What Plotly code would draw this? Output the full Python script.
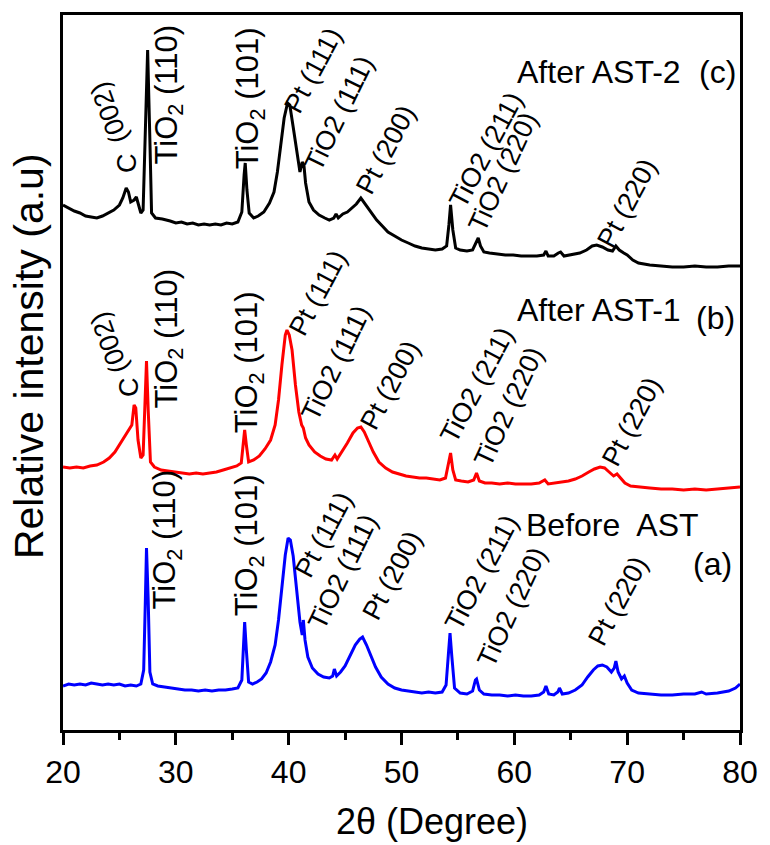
import plotly.graph_objects as go

# ---- XRD patterns (2θ in degrees, stacked intensity in a.u.) ----
two_theta_c = [20.0, 20.5, 21.0, 21.5, 22.0, 22.5, 23.0, 23.5, 24.0, 24.5, 25.0, 25.3, 25.6, 25.8, 26.0, 26.3, 26.5, 26.7, 26.9, 27.1,
               27.3, 27.5, 27.7, 27.85, 28.2, 28.8, 29.5, 30.0, 30.5, 31.0, 31.5, 32.0, 32.5, 33.0, 33.5, 34.0, 34.5, 35.0, 35.5, 35.85,
               36.05, 36.15, 36.3, 36.5, 36.9, 37.3, 37.8, 38.3, 38.7, 39.0, 39.3, 39.6, 39.9, 40.1, 40.4, 40.7, 41.0, 41.2, 41.35, 41.5,
               41.8, 42.2, 42.7, 43.2, 43.6, 44.0, 44.2, 44.4, 44.8, 45.2, 45.6, 46.0, 46.4, 46.7, 47.0, 47.4, 47.8, 48.3, 48.8, 49.4,
               50.0, 50.6, 51.2, 51.8, 52.4, 53.0, 53.6, 54.0, 54.2, 54.35, 54.55, 54.8, 55.2, 55.8, 56.3, 56.6, 56.8, 57.0, 57.3, 57.8,
               58.5, 59.2, 59.9, 60.6, 61.3, 62.0, 62.6, 62.8, 63.0, 63.5, 63.9, 64.1, 64.4, 65.0, 65.8, 66.4, 66.9, 67.3, 67.8, 68.3,
               68.7, 69.0, 69.3, 69.7, 70.0, 70.5, 71.0, 72.0, 73.0, 74.0, 75.0, 76.0, 77.0, 78.0, 79.0, 80.0]
intensity_c = [525, 522, 519, 517, 514, 513, 512, 514, 517, 520, 525, 532, 542, 538, 528, 530, 533, 525, 517, 520,
               590, 680, 590, 517, 512, 511, 509, 507, 508, 506, 507, 505, 506, 505, 506, 505, 507, 506, 508, 518,
               555, 567, 540, 517, 512, 514, 518, 527, 538, 558, 585, 612, 627, 625, 603, 580, 558, 568, 565, 547,
               528, 520, 515, 512, 510, 512, 516, 512, 516, 518, 522, 526, 532, 527, 522, 516, 510, 504, 498, 494,
               490, 487, 484, 482, 481, 480, 481, 484, 505, 525, 500, 482, 480, 479, 480, 487, 492, 484, 478, 477,
               476, 475, 475, 474, 474, 474, 475, 479, 474, 474, 477, 478, 474, 475, 477, 480, 484, 485, 483, 480,
               479, 484, 480, 477, 475, 470, 467, 465, 464, 463, 463, 464, 463, 463, 464, 464]

two_theta_b = [20.0, 20.6, 21.2, 21.8, 22.4, 23.0, 23.6, 24.1, 24.6, 25.0, 25.4, 25.8, 26.1, 26.3, 26.45, 26.65, 26.9, 27.1, 27.25, 27.4,
               27.55, 27.75, 28.1, 28.7, 29.3, 30.0, 30.6, 31.2, 31.8, 32.4, 33.0, 33.6, 34.2, 34.8, 35.4, 35.8, 36.0, 36.1, 36.25, 36.45,
               36.9, 37.4, 37.9, 38.4, 38.8, 39.1, 39.4, 39.7, 39.85, 40.05, 40.3, 40.6, 40.9, 41.15, 41.3, 41.5, 41.8, 42.3, 42.8, 43.3,
               43.8, 44.1, 44.3, 44.7, 45.2, 45.7, 46.1, 46.4, 46.7, 47.1, 47.5, 48.0, 48.6, 49.2, 49.8, 50.4, 51.0, 51.6, 52.2, 52.8,
               53.4, 53.9, 54.15, 54.35, 54.55, 54.8, 55.3, 55.9, 56.4, 56.65, 56.9, 57.4, 58.0, 58.7, 59.4, 60.1, 60.8, 61.5, 62.2, 62.7,
               63.0, 63.6, 64.2, 64.8, 65.4, 66.0, 66.6, 67.1, 67.6, 68.0, 68.4, 68.8, 69.1, 69.4, 69.8, 70.3, 71.0, 72.0, 73.0, 74.0,
               75.0, 76.0, 77.0, 78.0, 79.0, 80.0]
intensity_b = [263, 262, 263, 262, 264, 265, 268, 272, 278, 285, 293, 300, 305, 325, 322, 290, 272, 275, 330, 369,
               320, 268, 263, 260, 259, 258, 257, 256, 257, 256, 257, 258, 260, 262, 264, 267, 285, 300, 285, 268,
               270, 274, 281, 290, 305, 330, 365, 395, 400, 395, 380, 345, 318, 305, 302, 292, 285, 278, 274, 271,
               270, 275, 271, 278, 287, 297, 302, 303, 298, 288, 278, 268, 262, 258, 256, 254, 253, 252, 252, 251,
               250, 252, 265, 277, 260, 250, 249, 248, 250, 257, 249, 247, 247, 246, 247, 246, 246, 246, 247, 250,
               246, 247, 248, 249, 251, 254, 258, 261, 263, 262, 258, 254, 256, 252, 247, 244, 243, 242, 241, 241,
               240, 241, 240, 241, 242, 243]

two_theta_a = [20.0, 20.5, 21.0, 21.5, 22.0, 22.5, 23.0, 23.5, 24.0, 24.5, 25.0, 25.5, 26.0, 26.5, 26.9, 27.15, 27.3, 27.4, 27.55, 27.7,
               27.95, 28.4, 29.0, 29.6, 30.2, 30.8, 31.4, 32.0, 32.6, 33.2, 33.8, 34.4, 35.0, 35.5, 35.85, 36.0, 36.1, 36.25, 36.45, 36.8,
               37.2, 37.6, 38.0, 38.4, 38.8, 39.1, 39.4, 39.7, 39.95, 40.15, 40.4, 40.7, 41.0, 41.2, 41.3, 41.45, 41.7, 42.1, 42.6, 43.1,
               43.6, 43.9, 44.05, 44.25, 44.6, 45.0, 45.5, 45.9, 46.3, 46.55, 46.9, 47.3, 47.7, 48.2, 48.8, 49.4, 50.0, 50.6, 51.2, 51.8,
               52.4, 53.0, 53.6, 53.95, 54.15, 54.3, 54.45, 54.7, 55.2, 55.8, 56.3, 56.55, 56.65, 56.9, 57.3, 58.0, 58.7, 59.4, 60.1, 60.8,
               61.5, 62.2, 62.6, 62.8, 63.05, 63.5, 63.85, 64.0, 64.25, 64.8, 65.4, 66.0, 66.5, 67.0, 67.4, 67.8, 68.2, 68.6, 68.85, 69.0,
               69.2, 69.5, 69.75, 70.0, 70.4, 71.0, 72.0, 73.0, 74.0, 75.0, 76.0, 76.6, 77.0, 78.0, 79.0, 79.6, 80.0]
intensity_a = [44, 46, 45, 46, 45, 47, 46, 45, 46, 45, 46, 44, 45, 44, 46, 60, 130, 182, 130, 58,
               46, 44, 43, 42, 41, 40, 40, 39, 40, 39, 40, 40, 41, 42, 50, 90, 108, 80, 48, 46,
               48, 51, 57, 68, 85, 110, 140, 175, 192, 190, 174, 140, 108, 95, 110, 90, 73, 62, 56, 53,
               52, 54, 61, 54, 58, 64, 75, 85, 91, 93, 85, 74, 63, 53, 46, 42, 40, 39, 38, 37,
               38, 37, 38, 45, 75, 97, 75, 42, 37, 36, 39, 50, 51, 40, 36, 35, 35, 34, 35, 34,
               34, 35, 38, 44, 36, 35, 38, 42, 36, 37, 40, 45, 53, 60, 64, 65, 63, 58, 62, 69,
               58, 51, 54, 47, 40, 37, 36, 35, 35, 36, 36, 38, 36, 37, 39, 42, 46]

x_ticks = [20, 30, 40, 50, 60, 70, 80]

NARROW = "Liberation Sans Narrow, Liberation Sans, sans-serif"
SANS = "Liberation Sans, sans-serif"

fig = go.Figure()
for xs, ys, col in [(two_theta_a, intensity_a, "#0000FF"),
                    (two_theta_b, intensity_b, "#FF0000"),
                    (two_theta_c, intensity_c, "#000000")]:
    fig.add_trace(go.Scatter(x=xs, y=ys, mode="lines", line=dict(color=col, width=3),
                             showlegend=False, hoverinfo="skip"))

# peak labels: (text, x, y, angle)
SUB = "TiO<sub>2</sub>"
peak_labels = [
    # (c) After AST-2
    ("C", 25.68, 567, -90), ("(002)", 24.1, 617, -110),
    (SUB + " (110)", 29.35, 635, -90), (SUB + " (101)", 36.6, 632, -90),
    ("Pt (111)", 42.2, 660, -62), ("TiO2 (111)", 44.5, 617, -64),
    ("Pt (200)", 48.6, 580, -62), ("TiO2 (211)", 57.5, 580, -62),
    ("TiO2 (220)", 59.0, 558, -65), ("Pt (220)", 70.0, 527, -62),
    # (b) After AST-1
    ("C", 25.85, 343, -90), ("(002)", 24.1, 387, -110),
    (SUB + " (110)", 29.35, 391, -90), (SUB + " (101)", 36.5, 368, -90),
    ("Pt (111)", 42.6, 437, -62), ("TiO2 (111)", 44.2, 367, -64),
    ("Pt (200)", 49.0, 345, -62), ("TiO2 (211)", 56.7, 345, -62),
    ("TiO2 (220)", 59.5, 323, -65), ("Pt (220)", 70.4, 308, -62),
    # (a) Before AST
    (SUB + " (110)", 29.26, 191, -90), (SUB + " (101)", 36.5, 185, -90),
    ("Pt (111)", 43.1, 195, -62), ("TiO2 (111)", 44.8, 158, -64),
    ("Pt (200)", 49.2, 155, -62), ("TiO2 (211)", 57.1, 157, -62),
    ("TiO2 (220)", 59.8, 123, -65), ("Pt (220)", 69.2, 129, -62),
]

annotations = []
for txt, x, y, ang in peak_labels:
    size = 31 if txt.startswith(SUB) else 27
    annotations.append(dict(text=txt, x=x, y=y, xref="x", yref="y", textangle=ang,
                            showarrow=False, xanchor="center", yanchor="middle",
                            font=dict(family=SANS, size=size, color="black")))

sample_labels = [("After AST-2", 67.5, 658), ("(c)", 78.0, 658),
                 ("After AST-1", 67.5, 420), ("(b)", 77.8, 412),
                 ("Before  AST", 68.7, 205), ("(a)", 77.6, 166)]
for txt, x, y in sample_labels:
    annotations.append(dict(text=txt, x=x, y=y, xref="x", yref="y", showarrow=False,
                            xanchor="center", yanchor="middle",
                            font=dict(family=NARROW, size=32, color="black")))

# axis titles
annotations.append(dict(text="2θ (Degree)", x=44.0, y=-0.128, xref="x", yref="paper",
                        showarrow=False, xanchor="left", yanchor="middle",
                        font=dict(family=SANS, size=36, color="black")))
annotations.append(dict(text="Relative intensity (a.u)", x=0, y=0.523, xref="paper", yref="paper",
                        xshift=-34, textangle=-90, showarrow=False, xanchor="center", yanchor="middle",
                        font=dict(family=SANS, size=41, color="black")))

fig.update_layout(
    width=770, height=845,
    margin=dict(l=63, r=20, t=15, b=115),
    paper_bgcolor="white", plot_bgcolor="white",
    annotations=annotations,
    xaxis=dict(range=[20, 80], tickvals=x_ticks, ticks="outside", ticklen=12, tickwidth=3,
               tickcolor="black", showline=True, linewidth=3, linecolor="black", mirror=True,
               showgrid=False, zeroline=False,
               minor=dict(dtick=5, ticks="outside", ticklen=7, tickwidth=3, tickcolor="black", showgrid=False),
               tickfont=dict(family=NARROW, size=32, color="black")),
    yaxis=dict(range=[0, 715], showticklabels=False, ticks="", showline=True, linewidth=3,
               linecolor="black", mirror=True, showgrid=False, zeroline=False),
)

fig.write_html("out.html")
